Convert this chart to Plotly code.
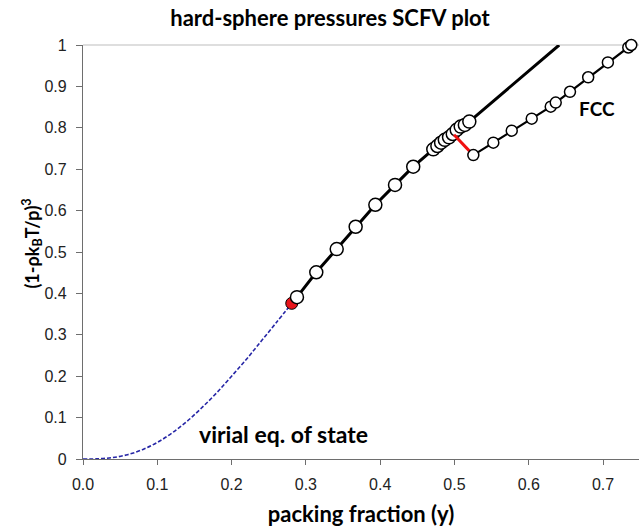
import plotly.graph_objects as go

# virial equation of state (blue dashed curve)
virial_x = [0.0, 0.02, 0.04, 0.06, 0.08, 0.10, 0.12, 0.14, 0.16, 0.18, 0.20, 0.22, 0.24, 0.26, 0.281]
virial_y = [0.0, 0.0005, 0.0034, 0.0105, 0.0226, 0.040, 0.063, 0.091, 0.124, 0.160, 0.200, 0.241, 0.285, 0.329, 0.376]

# red point where virial meets simulation data
red_x = [0.281]
red_y = [0.376]

# fluid simulation points (open circles)
fluid_x = [0.288, 0.314, 0.3415, 0.367, 0.3935, 0.420, 0.4445, 0.4715, 0.477, 0.482,
           0.487, 0.4927, 0.4977, 0.503, 0.5084, 0.514, 0.520]
fluid_y = [0.391, 0.451, 0.507, 0.561, 0.614, 0.662, 0.706, 0.748, 0.756, 0.764,
           0.771, 0.777, 0.785, 0.795, 0.803, 0.807, 0.815]

# fluid line (starts at red point, extended beyond data)
fluid_line_x = [0.281] + fluid_x + [0.641]
fluid_line_y = [0.376] + fluid_y + [1.0]

# FCC branch
fcc_x = [0.5254, 0.5523, 0.5771, 0.604, 0.6296, 0.6363, 0.6555, 0.680, 0.7065, 0.734, 0.738]
fcc_y = [0.734, 0.764, 0.793, 0.822, 0.851, 0.861, 0.887, 0.922, 0.958, 0.994, 1.0]

# coexistence tie line
tie_x = [0.4994, 0.5254]
tie_y = [0.783, 0.734]

x_ticks = [0.0, 0.1, 0.2, 0.3, 0.4, 0.5, 0.6, 0.7]
y_ticks = [0, 0.1, 0.2, 0.3, 0.4, 0.5, 0.6, 0.7, 0.8, 0.9, 1]
y_tick_text = ["0", "0.1", "0.2", "0.3", "0.4", "0.5", "0.6", "0.7", "0.8", "0.9", "1"]

BOLD_FONT = "Lato, Open Sans, sans-serif"
TICK_FONT = "Liberation Sans, Arial, sans-serif"

fig = go.Figure()

fig.add_trace(go.Scatter(x=virial_x, y=virial_y, mode="lines",
                         line=dict(color="#2626A6", width=1.6, dash="4px,2px"),
                         line_shape="spline", hoverinfo="skip"))
fig.add_trace(go.Scatter(x=fluid_line_x, y=fluid_line_y, mode="lines",
                         line=dict(color="black", width=3), hoverinfo="skip"))
fig.add_trace(go.Scatter(x=red_x, y=red_y, mode="markers",
                         marker=dict(color="#E8141B", size=12, line=dict(color="black", width=1))))
fig.add_trace(go.Scatter(x=fluid_x, y=fluid_y, mode="markers",
                         marker=dict(color="white", size=13, line=dict(color="black", width=1.5))))
fig.add_trace(go.Scatter(x=tie_x, y=tie_y, mode="lines",
                         line=dict(color="#F01010", width=3)))
fig.add_trace(go.Scatter(x=fcc_x, y=fcc_y, mode="lines+markers",
                         line=dict(color="black", width=2.2),
                         marker=dict(color="white", size=11, line=dict(color="black", width=1.5)),
                         cliponaxis=False))

fig.add_annotation(x=0.692, y=0.847, text="<b>FCC</b>", showarrow=False,
                   font=dict(family=BOLD_FONT, size=19, color="black"))
fig.add_annotation(x=0.270, y=0.060, text="<b>virial eq. of state</b>", showarrow=False,
                   font=dict(family=BOLD_FONT, size=23, color="black"))
# y-axis title
fig.add_annotation(xref="paper", yref="paper", x=-0.092, y=0.52, xanchor="center", yanchor="middle",
                   textangle=-90, showarrow=False,
                   text="<b>(1-ρk<sub>B</sub>T/p)<sup>3</sup></b>",
                   font=dict(family=BOLD_FONT, size=18, color="black"))

fig.add_shape(type="line", xref="paper", yref="paper", x0=0, x1=1, y0=1, y1=1,
              line=dict(color="#BDBDBD", width=1.2), layer="below")

fig.update_layout(
    width=639, height=532,
    margin=dict(l=83, r=0, t=45, b=73),
    paper_bgcolor="white", plot_bgcolor="white",
    showlegend=False,
    title=dict(text="<b>hard-sphere pressures SCFV plot</b>", xref="container", x=330 / 639,
               xanchor="center", y=1 - 18 / 532, yanchor="middle",
               font=dict(family=BOLD_FONT, size=22, color="black")),
    xaxis=dict(range=[0, 0.7484], tickvals=x_ticks, tickformat=".1f",
               showgrid=False, zeroline=False, showline=True, linecolor="#6E6E6E", linewidth=1.3,
               ticks="outside", ticklen=5, tickcolor="#6E6E6E", ticklabelstandoff=6,
               tickfont=dict(family=TICK_FONT, size=16, color="#222"),
               title=dict(text="<b>packing fraction (y)</b>", standoff=14,
                          font=dict(family=BOLD_FONT, size=22, color="black"))),
    yaxis=dict(range=[0, 1], tickvals=y_ticks, ticktext=y_tick_text,
               showgrid=False, zeroline=False, showline=True, linecolor="#6E6E6E", linewidth=1.3,
               ticks="outside", ticklen=6, tickcolor="#6E6E6E", ticklabelstandoff=6,
               tickfont=dict(family=TICK_FONT, size=16, color="#222")),
)

fig.write_html("out.html")
